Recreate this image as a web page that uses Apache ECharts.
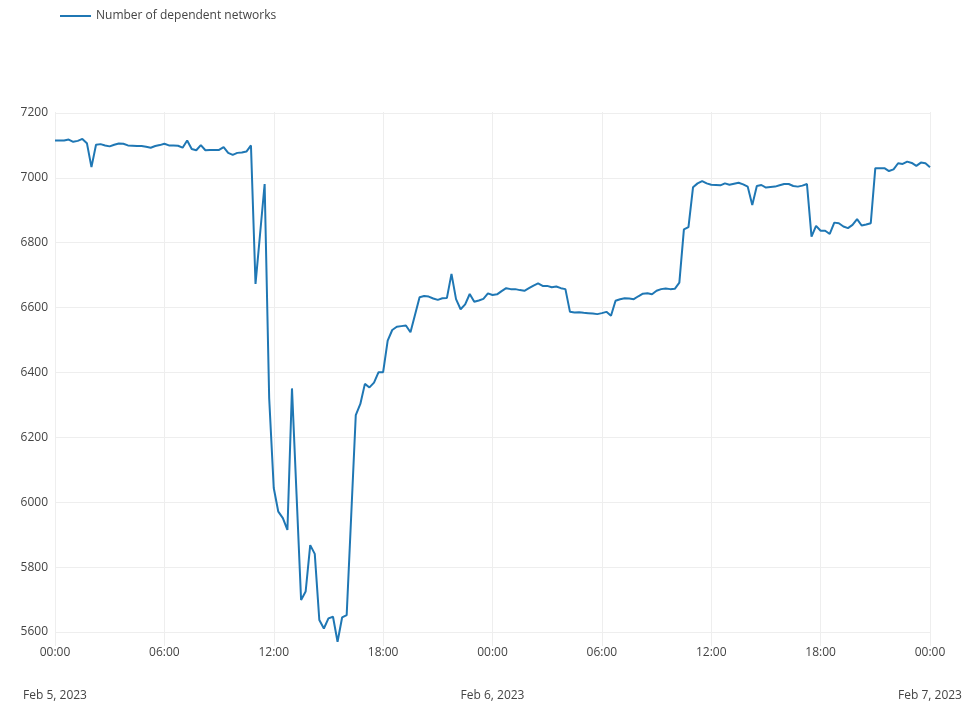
<!DOCTYPE html>
<html>
<head>
<meta charset="utf-8">
<script src="https://cdn.jsdelivr.net/npm/echarts@6/dist/echarts.min.js"></script>
<style>
  html, body { margin: 0; padding: 0; background: #fff; }
  #chart { width: 968px; height: 704px; }
</style>
</head>
<body>
<div id="chart"></div>
<script>
// Series name
const seriesName = 'Number of dependent networks';
// Sampling: one value every 15 minutes starting Feb 5, 2023 00:00 (UTC)
const startTime = Date.UTC(2023, 1, 5, 0, 0, 0);
const endTime = Date.UTC(2023, 1, 7, 0, 0, 0);
const stepMinutes = 15;
// Values
const dependentNetworks = [
  7115, 7115, 7115, 7118, 7111, 7114, 7120, 7107, 7033, 7102,
  7104, 7100, 7097, 7102, 7106, 7105, 7100, 7099, 7098, 7098,
  7096, 7093, 7098, 7101, 7105, 7100, 7100, 7099, 7093, 7115,
  7089, 7085, 7101, 7085, 7086, 7086, 7086, 7095, 7077, 7071,
  7077, 7078, 7081, 7100, 6673, 6827, 6981, 6320, 6044, 5971,
  5951, 5915, 6351, 6025, 5699, 5725, 5868, 5841, 5637, 5611,
  5642, 5647, 5570, 5645, 5652, 5960, 6269, 6303, 6365, 6354,
  6369, 6401, 6401, 6498, 6531, 6541, 6543, 6545, 6524, 6578,
  6632, 6636, 6634, 6628, 6624, 6629, 6630, 6704, 6626, 6595,
  6610, 6642, 6618, 6622, 6627, 6644, 6639, 6641, 6651, 6660,
  6657, 6657, 6654, 6652, 6660, 6668, 6675, 6667, 6667, 6663,
  6665, 6660, 6657, 6587, 6585, 6586, 6584, 6583, 6582, 6580,
  6583, 6587, 6575, 6621, 6626, 6629, 6628, 6626, 6635, 6643,
  6644, 6641, 6652, 6657, 6659, 6657, 6658, 6677, 6841, 6848,
  6971, 6983, 6990, 6983, 6979, 6978, 6977, 6983, 6979, 6982,
  6985, 6980, 6973, 6916, 6975, 6978, 6970, 6972, 6973, 6977,
  6981, 6981, 6975, 6973, 6976, 6981, 6819, 6852, 6837, 6837,
  6827, 6862, 6860, 6850, 6845, 6855, 6873, 6853, 6856, 6860,
  7030, 7030, 7030, 7021, 7026, 7045, 7043, 7050, 7046, 7037,
  7047, 7045, 7033
];
// Axis ticks
const yTicks = [5600, 5800, 6000, 6200, 6400, 6600, 6800, 7000, 7200];
const monthNames = ['Jan','Feb','Mar','Apr','May','Jun','Jul','Aug','Sep','Oct','Nov','Dec'];

const timestamps = dependentNetworks.map((_, i) => startTime + i * stepMinutes * 60000);
const seriesData = dependentNetworks.map((v, i) => [timestamps[i], v]);

const pad = n => (n < 10 ? '0' : '') + n;
function xLabel(val) {
  const d = new Date(val);
  const hh = pad(d.getUTCHours()) + ':' + pad(d.getUTCMinutes());
  if (d.getUTCHours() === 0) {
    return '{a|' + hh + '}\n{b|' + monthNames[d.getUTCMonth()] + ' ' + d.getUTCDate() + ', ' + d.getUTCFullYear() + '}';
  }
  return '{a|' + hh + '}';
}

const chart = echarts.init(document.getElementById('chart'), null, { renderer: 'canvas' });
chart.setOption({
  backgroundColor: '#ffffff',
  animation: false,
  textStyle: { fontFamily: 'Open Sans' },
  legend: {
    left: 55,
    top: 5,
    itemWidth: 31,
    itemHeight: 14,
    itemGap: 10,
    textStyle: { fontFamily: 'Open Sans', fontSize: 12, color: '#444' },
    data: [{ name: seriesName, icon: 'path://M0,6 L31,6 L31,8 L0,8 Z' }]
  },
  grid: { left: 55, right: 38, top: 112, bottom: 58, containLabel: false },
  xAxis: {
    type: 'value',
    min: startTime,
    max: endTime,
    interval: 6 * 3600 * 1000,
    axisLine: { show: false },
    axisTick: { show: false },
    splitLine: { show: true, lineStyle: { color: '#eeeeee', width: 1 } },
    axisLabel: {
      margin: 0,
      formatter: xLabel,
      rich: {
        a: { fontFamily: 'Open Sans', fontSize: 12, color: '#444', lineHeight: 14, align: 'center' },
        b: { fontFamily: 'Open Sans', fontSize: 12, color: '#444', lineHeight: 72, align: 'center' }
      },
      hideOverlap: false,
      showMinLabel: true,
      showMaxLabel: true
    }
  },
  yAxis: {
    type: 'value',
    min: 5557,
    max: 7203,
    splitNumber: 8,
    minInterval: yTicks[1] - yTicks[0],
    maxInterval: yTicks[1] - yTicks[0],
    axisLine: { show: false },
    axisTick: { show: false },
    splitLine: { show: true, showMinLine: false, showMaxLine: false, lineStyle: { color: '#eeeeee', width: 1 } },
    axisLabel: {
      margin: 7,
      fontFamily: 'Open Sans',
      fontSize: 12,
      color: '#444',
      showMinLabel: false,
      showMaxLabel: false,
      formatter: v => (yTicks.indexOf(v) >= 0 ? String(v) : '')
    }
  },
  series: [{
    name: seriesName,
    type: 'line',
    data: seriesData,
    symbol: 'none',
    showSymbol: false,
    lineStyle: { color: '#1f77b4', width: 2 },
    itemStyle: { color: '#1f77b4' }
  }]
});
</script>
</body>
</html>
